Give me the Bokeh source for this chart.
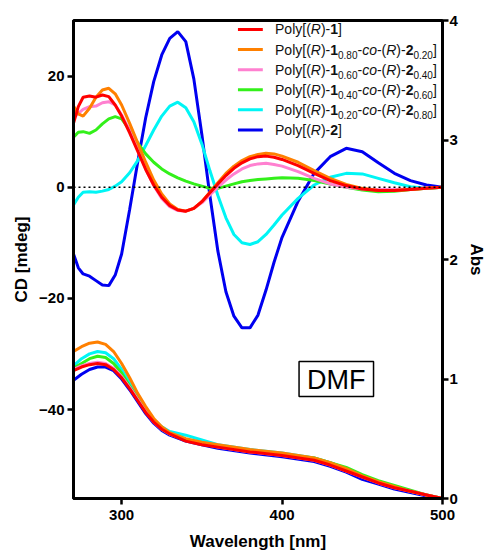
from bokeh.plotting import figure
from bokeh.models import Range1d, LinearAxis, FixedTicker, Label
from bokeh.embed import file_html
from bokeh.resources import INLINE

# ---------------- data ----------------
series_ids = ["1", "1_0.80", "1_0.60", "1_0.40", "1_0.20", "2"]
frac1 = [None, "0.80", "0.60", "0.40", "0.20", None]
frac2 = [None, "0.20", "0.40", "0.60", "0.80", None]
colors = ["#FF0000", "#FF8000", "#FF80D0", "#33F01A", "#00F5F5", "#0000F0"]

wl_cd = [270, 273, 276, 280, 284, 288, 292, 296, 300, 305, 310, 315, 320, 325, 330,
         335, 340, 345, 350, 355, 360, 365, 370, 375, 380, 385, 390, 395, 400, 410,
         420, 430, 440, 450, 460, 470, 480, 490, 500]

cd_red = [11.5, 14.5, 16.2, 16.4, 16.2, 16.6, 16.3, 14.8, 12.8, 9.8, 6.5, 3.2, 0.4, -1.8, -3.3,
          -4.1, -4.3, -3.8, -2.6, -1.0, 0.6, 2.1, 3.4, 4.4, 5.1, 5.5, 5.6, 5.4, 5.0, 3.9,
          2.5, 1.2, 0.3, -0.3, -0.6, -0.6, -0.4, -0.2, 0.0]
cd_orange = [14.6, 13.2, 12.8, 14.2, 16.2, 17.5, 17.8, 16.8, 14.8, 11.5, 8.0, 4.5, 1.3, -1.2, -3.0,
             -4.0, -4.3, -3.8, -2.6, -0.9, 0.8, 2.5, 3.8, 4.8, 5.5, 5.9, 6.1, 6.0, 5.6, 4.5,
             3.0, 1.6, 0.5, -0.2, -0.6, -0.6, -0.4, -0.2, 0.0]
cd_pink = [12.5, 13.3, 14.0, 14.5, 14.6, 15.2, 15.4, 14.8, 13.0, 10.2, 6.8, 3.3, 0.3, -2.0, -3.5,
           -4.2, -4.3, -3.8, -2.8, -1.4, 0.0, 1.3, 2.4, 3.3, 3.9, 4.2, 4.3, 4.1, 3.8, 2.8,
           1.6, 0.6, 0.0, -0.3, -0.4, -0.4, -0.3, -0.1, 0.0]
cd_green = [9.0, 9.9, 10.0, 9.7, 10.3, 11.4, 12.3, 12.7, 12.3, 10.3, 8.0, 6.0, 4.5, 3.3, 2.4,
            1.7, 1.1, 0.6, 0.2, -0.2, -0.2, 0.2, 0.6, 1.0, 1.2, 1.4, 1.5, 1.6, 1.7, 1.6,
            1.2, 0.6, 0.0, -0.5, -0.8, -0.7, -0.4, -0.2, 0.0]
cd_cyan = [-3.2, -1.8, -0.9, -0.8, -0.9, -0.7, -0.4, 0.2, 1.0, 2.6, 4.8, 7.5, 10.3, 12.8, 14.6,
           15.3, 14.3, 11.8, 7.8, 3.0, -1.5, -5.5, -8.5, -10.0, -10.3, -9.8, -8.5, -6.8, -5.0, -2.0,
           0.4, 1.8, 2.5, 2.4, 1.6, 0.8, 0.1, -0.2, 0.0]
cd_blue = [-12.0, -14.5, -15.6, -16.0, -16.8, -17.6, -17.7, -15.8, -12.0, -4.0, 4.5, 12.5, 19.0, 23.8, 26.8,
           28.0, 26.2, 19.5, 9.5, -1.5, -11.5, -18.8, -23.2, -25.3, -25.3, -23.0, -18.5, -13.5, -9.0, -2.5,
           2.5, 5.5, 7.0, 6.4, 4.4, 2.5, 1.2, 0.4, 0.0]

wl_abs = [270, 275, 280, 285, 290, 295, 300, 305, 310, 315, 320, 325, 330, 340, 350, 360,
          380, 400, 420, 430, 440, 450, 460, 470, 480, 490, 500]
abs_red = [1.07, 1.10, 1.12, 1.13, 1.12, 1.08, 1.01, 0.92, 0.82, 0.72, 0.64, 0.58, 0.54, 0.48, 0.45, 0.43,
           0.39, 0.36, 0.32, 0.28, 0.23, 0.18, 0.13, 0.09, 0.06, 0.03, 0.0]
abs_orange = [1.23, 1.27, 1.30, 1.31, 1.29, 1.23, 1.13, 1.01, 0.88, 0.77, 0.67, 0.60, 0.55, 0.50, 0.47, 0.45,
              0.41, 0.38, 0.34, 0.30, 0.25, 0.19, 0.14, 0.10, 0.06, 0.03, 0.0]
abs_pink = [1.08, 1.11, 1.13, 1.14, 1.13, 1.09, 1.02, 0.93, 0.83, 0.73, 0.64, 0.58, 0.54, 0.49, 0.46, 0.43,
            0.39, 0.36, 0.32, 0.28, 0.23, 0.18, 0.13, 0.09, 0.06, 0.03, 0.0]
abs_green = [1.09, 1.13, 1.17, 1.19, 1.18, 1.13, 1.05, 0.94, 0.84, 0.73, 0.65, 0.58, 0.54, 0.49, 0.46, 0.44,
             0.40, 0.37, 0.34, 0.30, 0.26, 0.20, 0.15, 0.11, 0.07, 0.03, 0.0]
abs_cyan = [1.11, 1.17, 1.21, 1.23, 1.22, 1.17, 1.08, 0.97, 0.86, 0.75, 0.66, 0.60, 0.56, 0.53, 0.49, 0.45,
            0.41, 0.38, 0.34, 0.30, 0.25, 0.19, 0.14, 0.10, 0.06, 0.03, 0.0]
abs_blue = [0.99, 1.04, 1.08, 1.10, 1.10, 1.07, 1.00, 0.91, 0.81, 0.71, 0.63, 0.57, 0.53, 0.48, 0.45, 0.42,
            0.38, 0.35, 0.31, 0.27, 0.22, 0.16, 0.12, 0.08, 0.05, 0.02, 0.0]

cd_all = [cd_red, cd_orange, cd_pink, cd_green, cd_cyan, cd_blue]
abs_all = [abs_red, abs_orange, abs_pink, abs_green, abs_cyan, abs_blue]

x_ticks = [300, 400, 500]
cd_ticks = [-40, -20, 0, 20]
abs_ticks = [0, 1, 2, 3, 4]

FONT = "Liberation Sans"

# ---------------- figure ----------------
p = figure(width=488, height=554, output_backend="svg", toolbar_location=None,
           x_range=Range1d(270, 500), y_range=Range1d(-56, 30),
           min_border_left=73, min_border_right=46, min_border_top=20, min_border_bottom=56)
p.extra_y_ranges = {"abs": Range1d(0, 4)}
p.grid.visible = False
p.outline_line_color = "black"
p.outline_line_width = 3

# draw order: blue first, red last (on top)
for i in reversed(range(6)):
    p.line(wl_cd, cd_all[i], line_color=colors[i], line_width=3)
for i in reversed(range(6)):
    p.line(wl_abs, abs_all[i], line_color=colors[i], line_width=3, y_range_name="abs")

# zero line
p.line([x_ticks[0] - 30, x_ticks[-1]], [0, 0], line_color="black", line_width=1.5, line_dash="2 3")

def style_axis(ax):
    ax.axis_line_width = 3
    ax.axis_line_color = "black"
    ax.major_tick_line_width = 2.5
    ax.major_tick_out = 6
    ax.major_tick_in = 0
    ax.minor_tick_out = 0
    ax.minor_tick_in = 0
    ax.major_label_text_font = FONT
    ax.major_label_text_font_style = "bold"
    ax.major_label_text_font_size = "15px"
    ax.major_label_text_color = "black"
    ax.axis_label_text_font = FONT
    ax.axis_label_text_font_style = "bold"
    ax.axis_label_text_font_size = "17px"
    ax.axis_label_text_color = "black"

p.xaxis.ticker = FixedTicker(ticks=x_ticks)
p.yaxis.ticker = FixedTicker(ticks=cd_ticks)
p.xaxis.axis_label = "Wavelength [nm]"
p.yaxis.axis_label = "CD [mdeg]"
style_axis(p.xaxis[0])
style_axis(p.yaxis[0])
p.xaxis.major_label_standoff = 5
p.xaxis.axis_label_standoff = 9
p.yaxis.major_label_standoff = 3
p.yaxis.axis_label_standoff = 5

ax2 = LinearAxis(y_range_name="abs", ticker=FixedTicker(ticks=abs_ticks), axis_label="Abs")
style_axis(ax2)
ax2.major_label_standoff = 1
ax2.axis_label_standoff = 6
p.add_layout(ax2, "right")

# ---------------- legend (manual, rich text) ----------------
W = {'P': 667, 'o': 556, 'l': 222, 'y': 500, '[': 278, '(': 333, 'R': 722, ')': 333,
     '-': 333, ']': 278, 'c': 500, '.': 278}
def tw(s, size):
    return sum(W.get(ch, 556) for ch in s) * size / 1000.0

def pieces(i):
    n = "normal"
    if frac1[i] is None:
        num = series_ids[i]
        return [("Poly[(", n, 14), ("R", "italic", 14), (")-", n, 14), (num, "bold", 14), ("]", n, 14)]
    return [("Poly[(", n, 14), ("R", "italic", 14), (")-", n, 14), ("1", "bold", 14),
            (frac1[i], n, 10), ("-", n, 14), ("co", "italic", 14), ("-(", n, 14),
            ("R", "italic", 14), (")-", n, 14), ("2", "bold", 14), (frac2[i], n, 10), ("]", n, 14)]

leg_x0, leg_x1, leg_tx = 372.5, 388.0, 395.6
leg_top, leg_step = 28.4, 3.62
for i in range(6):
    yv = leg_top - i * leg_step
    p.line([leg_x0, leg_x1], [yv, yv], line_color=colors[i], line_width=3)
    off = 0.0
    for txt, style, size in pieces(i):
        p.add_layout(Label(x=leg_tx, y=yv, x_offset=off, y_offset=(-5 if size == 10 else 0),
                           text=txt, text_font=FONT, text_font_style=style,
                           text_font_size=f"{size}px", text_baseline="middle",
                           text_align="left", text_color="#111111"))
        off += tw(txt, size)

# DMF box
p.add_layout(Label(x=433.8, y=-34.5, text="DMF", text_font=FONT, text_font_size="27px",
                   text_align="center", text_baseline="middle", text_color="black",
                   border_line_color="black", border_line_width=1.5,
                   background_fill_color="white",
                   padding=dict(left=8, right=8, top=3, bottom=2)))

open("out.html", "w").write(file_html(p, INLINE))
